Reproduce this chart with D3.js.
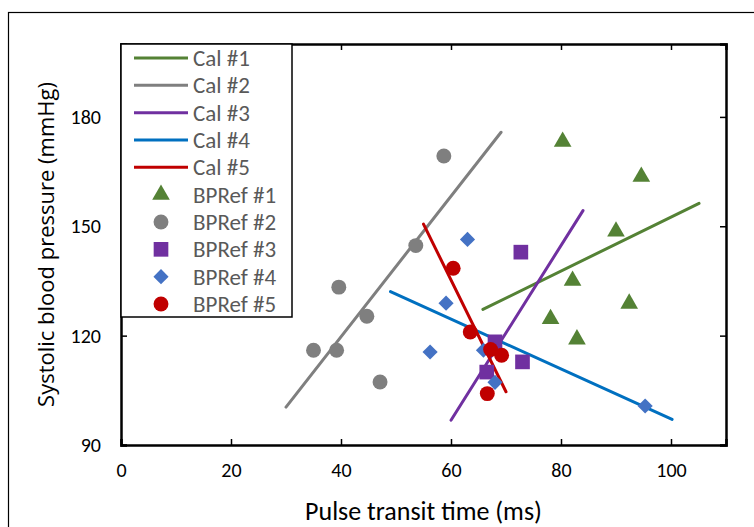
<!DOCTYPE html>
<html>
<head>
<meta charset="utf-8">
<script src="https://cdn.jsdelivr.net/npm/d3@7"></script>
<style>
  body { margin: 0; background: #fff; }
  .cal { font-family: Carlito, Calibri, Lato, sans-serif; }
</style>
</head>
<body>
<div id="chart"></div>
<script>
// calibration lines: [x1, y1, x2, y2]
const calNames = ["Cal #1", "Cal #2", "Cal #3", "Cal #4", "Cal #5"];
const calLines = [
    [65.8, 127.2, 105.1, 156.3],
    [30.0, 100.4, 69.1, 175.8],
    [60.0, 96.8, 84.0, 154.3],
    [49.0, 132.1, 100.2, 97.0],
    [55.0, 150.6, 70.0, 104.6]
];

const refNames = ["BPRef #1", "BPRef #2", "BPRef #3", "BPRef #4", "BPRef #5"];
const ref1 = [[80.3, 173.2], [94.6, 163.6], [90.0, 148.6], [82.1, 135.1], [92.4, 128.8], [78.1, 124.6], [82.9, 119.0]];
const ref2 = [[58.7, 169.3], [53.6, 144.7], [39.6, 133.3], [44.7, 125.3], [35.0, 116.0], [39.2, 116.0], [47.1, 107.3]];
const ref3 = [[72.7, 142.9], [68.0, 118.3], [73.0, 112.8], [66.5, 110.0]];
const ref4 = [[63.0, 146.4], [59.1, 128.9], [56.2, 115.5], [65.9, 116.0], [68.0, 107.2], [95.3, 100.7]];
const ref5 = [[60.4, 138.5], [63.5, 121.0], [67.2, 116.2], [69.2, 114.6], [66.6, 104.1]];

const xTicks = [0, 20, 40, 60, 80, 100];
const yTicks = [90, 120, 150, 180];

const lineColors = ["#548235", "#7f7f7f", "#7030a0", "#0070c0", "#c00000"];
const markColors = ["#548235", "#7f7f7f", "#7030a0", "#4472c4", "#c00000"];
const markShapes = [d3.symbolTriangle, d3.symbolCircle, d3.symbolSquare, d3.symbolSquare, d3.symbolCircle];
const markSizes = [135, 175, 215, 115, 175];
const markRotate = [0, 0, 0, 45, 0];

const W = 754, H = 527;
const margin = {top: 44, right: 28, bottom: 82, left: 121};
const width = W - margin.left - margin.right,
    height = H - margin.top - margin.bottom;

var svg = d3.select("#chart")
    .append("svg")
    .attr("width", W)
    .attr("height", H);

// outer chart border (runs past right and bottom edges)
svg.append("rect")
    .attr("x", 8.5).attr("y", 12.5)
    .attr("width", W).attr("height", H)
    .attr("fill", "none")
    .attr("stroke", "#000")
    .attr("stroke-width", 1.2);

var g = svg.append("g")
    .attr("transform", "translate(" + margin.left + "," + margin.top + ")");

var x = d3.scaleLinear().domain([0, 110]).range([0, width]);
var y = d3.scaleLinear().domain([90, 200]).range([height, 0]);

// axes with inward ticks on all four sides
g.append("g")
    .attr("class", "cal")
    .attr("transform", "translate(0," + height + ")")
    .call(d3.axisBottom(x).tickValues(xTicks).tickSize(-6).tickPadding(18));
g.append("g")
    .call(d3.axisTop(x).tickValues(xTicks.slice(1)).tickSize(-6).tickFormat(""));
g.append("g")
    .attr("class", "cal")
    .call(d3.axisLeft(y).tickValues(yTicks).tickSize(-6).tickPadding(20));
g.append("g")
    .attr("transform", "translate(" + width + ",0)")
    .call(d3.axisRight(y).tickValues(yTicks).tickSize(-6).tickFormat(""));

g.selectAll(".tick text")
    .attr("fill", "#000")
    .style("font-size", "20px");
g.selectAll(".tick line")
    .attr("stroke", "#000")
    .attr("stroke-width", 1.5);
g.selectAll("path.domain")
    .attr("stroke", "#000")
    .attr("stroke-width", 2.5);

// calibration lines
g.selectAll("line.calline")
    .data(calLines)
    .enter()
    .append("line")
    .attr("class", "calline")
    .attr("x1", d => x(d[0]))
    .attr("y1", d => y(d[1]))
    .attr("x2", d => x(d[2]))
    .attr("y2", d => y(d[3]))
    .attr("stroke", (d, i) => lineColors[i])
    .attr("stroke-width", 3)
    .attr("stroke-linecap", "round");

// reference points
const refs = [ref1, ref2, ref3, ref4, ref5];
refs.forEach(function(pts, i) {
    g.selectAll("path.ref" + i)
        .data(pts)
        .enter()
        .append("path")
        .attr("class", "ref" + i)
        .attr("transform", d => "translate(" + x(d[0]) + "," + y(d[1]) + ")rotate(" + markRotate[i] + ")")
        .attr("d", d3.symbol().type(markShapes[i]).size(markSizes[i]))
        .attr("fill", markColors[i]);
});

// legend
var leg = svg.append("g").attr("transform", "translate(121,44)");
leg.append("rect")
    .attr("x", 0).attr("y", 0)
    .attr("width", 171).attr("height", 273)
    .attr("fill", "#fff")
    .attr("stroke", "#000")
    .attr("stroke-width", 1.5);

const rowY = d3.scaleLinear().domain([0, 9]).range([14, 260]);
calNames.forEach(function(name, i) {
    leg.append("line")
        .attr("x1", 13).attr("x2", 67)
        .attr("y1", rowY(i)).attr("y2", rowY(i))
        .attr("stroke", lineColors[i])
        .attr("stroke-width", 3);
    leg.append("text")
        .attr("class", "cal")
        .attr("x", 72).attr("y", rowY(i))
        .attr("dy", "0.35em")
        .style("font-size", "23px")
        .attr("fill", "#595959")
        .text(name);
});
refNames.forEach(function(name, i) {
    var yy = rowY(i + 5);
    leg.append("path")
        .attr("transform", "translate(40," + yy + ")rotate(" + markRotate[i] + ")")
        .attr("d", d3.symbol().type(markShapes[i]).size(markSizes[i]))
        .attr("fill", markColors[i]);
    leg.append("text")
        .attr("class", "cal")
        .attr("x", 72).attr("y", yy)
        .attr("dy", "0.35em")
        .style("font-size", "23px")
        .attr("fill", "#595959")
        .text(name);
});

// axis titles
svg.append("text")
    .attr("class", "cal")
    .attr("x", margin.left + width / 2)
    .attr("y", 520)
    .attr("text-anchor", "middle")
    .style("font-size", "26px")
    .attr("fill", "#000")
    .text("Pulse transit time (ms)");

svg.append("text")
    .attr("transform", "translate(54," + (margin.top + height / 2) + ")rotate(-90)")
    .attr("text-anchor", "middle")
    .style("font-family", "'Open Sans', 'Noto Sans', sans-serif")
    .style("font-size", "22px")
    .attr("fill", "#000")
    .text("Systolic blood pressure (mmHg)");
</script>
</body>
</html>
